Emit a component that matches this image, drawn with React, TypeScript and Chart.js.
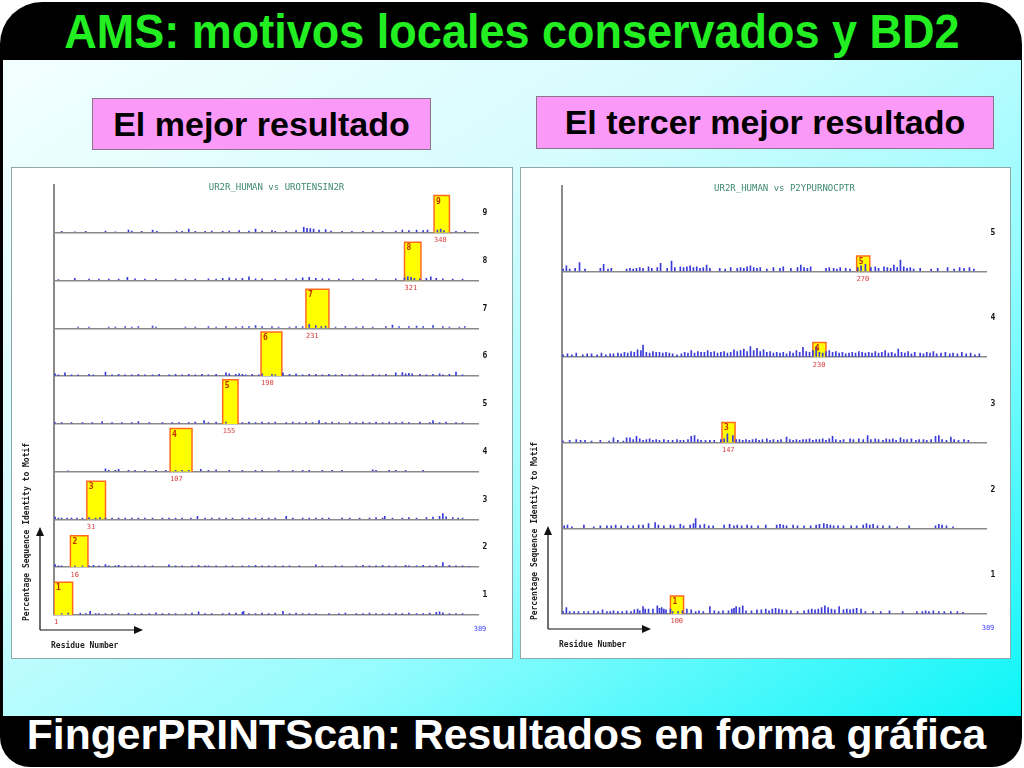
import React, { useEffect, useRef } from "react";
import { Chart, registerables } from "chart.js";

Chart.register(...registerables);

// ---------- data ----------
const RESIDUE_MIN = 1;
const RESIDUE_MAX = 389;
const IDENTITY_MAX = 105;

const LEFT_TITLE = "UR2R_HUMAN vs UROTENSIN2R";
const RIGHT_TITLE = "UR2R_HUMAN vs P2YPURNOCPTR";

const LEFT_ROWS = [1, 2, 3, 4, 5, 6, 7, 8, 9];
const RIGHT_ROWS = [1, 2, 3, 4, 5];

type Motif = { row: number; start: number; len: number; identity: number };

const LEFT_MOTIFS: Motif[] = [
  { row: 1, start: 1, len: 17, identity: 72 },
  { row: 2, start: 16, len: 16, identity: 69 },
  { row: 3, start: 31, len: 17, identity: 84 },
  { row: 4, start: 107, len: 20, identity: 95 },
  { row: 5, start: 155, len: 14, identity: 97 },
  { row: 6, start: 190, len: 19, identity: 97 },
  { row: 7, start: 231, len: 21, identity: 86 },
  { row: 8, start: 321, len: 15, identity: 84 },
  { row: 9, start: 348, len: 14, identity: 82 },
];

const RIGHT_MOTIFS: Motif[] = [
  { row: 1, start: 100, len: 12, identity: 22 },
  { row: 3, start: 147, len: 12, identity: 25 },
  { row: 4, start: 230, len: 12, identity: 18 },
  { row: 5, start: 270, len: 12, identity: 19 },
];

// [residue, % identity] of the small background hits
const L9_NOISE = [[8,3],[20,2],[30,3],[48,4],[57,2],[69,6],[72,4],[81,3],[91,6],[95,3],[113,4],[118,3],[124,8],[130,3],[139,3],[145,4],[155,3],[161,4],[170,5],[179,4],[185,8],[191,4],[200,5],[203,3],[213,4],[222,5],[229,12],[232,10],[235,9],[238,8],[243,6],[249,7],[254,4],[264,3],[273,3],[283,3],[292,4],[301,3],[313,4],[319,6],[325,5],[332,6],[338,5],[342,6],[351,6],[354,8],[357,5],[368,3],[376,4]];
const L8_NOISE = [[5,2],[20,5],[33,3],[42,3],[51,3],[60,3],[68,7],[75,4],[84,3],[94,3],[112,3],[121,3],[130,3],[142,4],[149,3],[155,5],[161,6],[167,4],[173,5],[179,8],[185,4],[191,4],[203,3],[213,4],[222,4],[228,6],[234,7],[240,5],[246,4],[252,4],[261,3],[274,3],[283,3],[295,3],[313,4],[321,6],[324,9],[327,7],[330,5],[335,4],[341,5],[345,8],[350,5],[356,4],[365,3],[374,3]];
const L7_NOISE = [[23,3],[33,3],[51,3],[57,3],[66,4],[72,3],[78,4],[91,5],[94,3],[121,3],[130,3],[142,4],[149,3],[158,4],[167,3],[173,4],[179,4],[185,6],[191,4],[200,4],[206,3],[216,3],[222,4],[228,4],[234,9],[240,6],[245,4],[249,5],[258,3],[267,4],[277,3],[283,4],[292,3],[304,4],[310,7],[316,4],[325,4],[332,5],[338,4],[347,6],[356,4],[362,3],[371,3],[376,4]];
const L6_NOISE = [[2,5],[5,3],[11,7],[17,3],[23,3],[33,4],[37,3],[48,9],[54,3],[60,4],[66,3],[72,3],[78,4],[84,3],[91,3],[97,4],[106,3],[112,4],[118,3],[124,4],[130,3],[136,4],[142,3],[149,4],[158,7],[161,5],[167,4],[170,5],[173,4],[176,3],[182,4],[188,3],[191,5],[200,4],[203,3],[210,7],[216,4],[222,5],[228,3],[234,4],[240,4],[246,3],[252,4],[258,3],[264,4],[271,3],[277,4],[283,3],[292,4],[298,3],[304,4],[313,7],[319,8],[322,5],[325,6],[328,5],[335,4],[341,3],[347,4],[353,5],[356,3],[362,4],[368,9],[374,3]];
const L5_NOISE = [[2,3],[8,3],[17,3],[27,3],[36,3],[45,5],[54,3],[63,3],[72,3],[78,5],[88,3],[100,3],[109,3],[115,3],[124,3],[130,4],[138,7],[142,3],[149,4],[158,4],[173,3],[179,4],[185,3],[191,4],[197,3],[203,4],[213,3],[219,4],[225,3],[231,4],[237,3],[243,7],[249,3],[255,4],[261,3],[271,4],[277,3],[283,4],[289,3],[295,4],[301,3],[307,4],[313,3],[319,4],[325,3],[335,4],[344,3],[347,7],[353,3],[359,4],[368,3],[374,3]];
const L4_NOISE = [[14,2],[48,6],[51,3],[57,3],[60,5],[69,3],[75,3],[84,3],[94,3],[103,3],[112,3],[118,3],[124,3],[135,5],[142,3],[149,4],[161,3],[173,3],[185,3],[191,3],[206,3],[219,3],[228,3],[234,3],[246,3],[255,3],[264,3],[292,4],[295,3],[307,3],[313,3],[322,3],[338,3]];
const L3_NOISE = [[2,5],[5,3],[8,3],[13,3],[17,3],[22,3],[27,3],[33,4],[39,3],[43,4],[48,3],[54,3],[60,3],[66,3],[72,3],[78,3],[84,3],[91,3],[100,3],[106,3],[112,3],[118,3],[126,3],[132,7],[139,3],[145,3],[152,3],[158,3],[164,3],[173,3],[179,3],[185,3],[191,3],[197,3],[203,3],[213,7],[219,3],[228,3],[234,3],[240,3],[246,3],[252,3],[264,3],[271,3],[280,3],[289,3],[295,4],[301,3],[303,7],[310,3],[319,3],[325,4],[332,3],[341,4],[347,5],[353,7],[356,13],[359,6],[365,4],[370,3],[374,3]];
const L2_NOISE = [[2,6],[5,3],[8,3],[20,3],[27,3],[33,3],[37,4],[42,3],[48,6],[51,3],[57,3],[60,4],[66,3],[72,3],[78,3],[84,3],[91,3],[106,5],[112,3],[118,3],[127,3],[133,4],[139,3],[142,3],[149,3],[158,3],[164,3],[173,3],[179,3],[185,4],[191,3],[197,3],[203,3],[210,3],[216,3],[225,3],[240,5],[246,3],[258,3],[264,3],[277,3],[283,4],[289,3],[295,3],[301,4],[307,3],[313,3],[322,4],[325,3],[332,3],[338,4],[344,3],[350,4],[356,10],[362,4],[368,3],[374,3],[380,2]];
const L1_NOISE = [[8,3],[14,4],[25,4],[30,3],[34,8],[39,3],[42,3],[48,3],[54,3],[60,3],[69,4],[75,3],[81,3],[88,3],[94,5],[100,3],[106,3],[112,3],[121,3],[127,4],[133,7],[139,3],[145,3],[155,3],[161,4],[167,4],[173,6],[174,8],[179,3],[185,3],[191,4],[197,3],[203,4],[210,8],[216,3],[222,4],[228,3],[234,3],[240,3],[252,3],[261,3],[267,4],[277,3],[283,3],[289,4],[295,3],[301,3],[307,3],[313,4],[319,3],[325,4],[332,3],[338,3],[344,4],[350,6],[353,7],[356,5],[362,3],[368,3],[374,3]];

const R5_NOISE = [[2,3],[5,7],[8,3],[13,4],[17,11],[22,3],[36,4],[39,9],[43,3],[46,4],[60,3],[63,4],[66,3],[69,4],[72,5],[75,4],[80,6],[83,4],[88,5],[91,10],[97,4],[101,13],[104,5],[109,6],[112,5],[115,6],[118,7],[121,5],[124,6],[127,4],[130,5],[133,8],[136,4],[145,4],[150,3],[155,5],[161,4],[164,5],[167,4],[170,6],[173,7],[176,5],[179,4],[182,5],[188,3],[194,5],[200,4],[203,6],[210,4],[216,5],[219,8],[222,5],[225,4],[228,6],[242,4],[245,5],[249,4],[252,3],[255,5],[260,4],[264,3],[271,5],[274,7],[278,9],[283,5],[287,6],[290,4],[295,6],[298,5],[301,4],[304,8],[307,5],[310,14],[313,6],[316,4],[319,5],[322,3],[328,4],[338,3],[344,4],[353,5],[359,3],[364,5],[368,4],[373,5],[377,3]];
const R4_NOISE = [[2,3],[6,4],[10,3],[14,5],[20,3],[24,4],[28,4],[33,3],[37,5],[41,3],[45,4],[48,4],[52,5],[55,4],[58,6],[61,5],[64,7],[67,6],[70,9],[73,8],[75,15],[78,6],[81,5],[84,7],[87,6],[90,6],[93,5],[96,6],[99,5],[102,4],[106,3],[110,4],[113,6],[116,5],[119,8],[122,5],[125,7],[128,6],[131,6],[134,8],[137,6],[140,7],[143,5],[146,6],[149,7],[152,5],[155,6],[158,9],[161,7],[164,8],[167,10],[170,7],[173,13],[176,8],[179,11],[182,7],[185,9],[188,6],[191,7],[194,5],[197,6],[200,5],[203,6],[206,4],[209,7],[212,5],[215,8],[218,6],[221,12],[224,7],[227,6],[230,8],[233,13],[236,6],[239,5],[242,7],[245,8],[248,6],[251,7],[254,5],[257,6],[260,4],[263,5],[266,6],[269,5],[272,7],[275,6],[278,5],[281,6],[284,5],[287,7],[290,5],[293,6],[296,8],[299,5],[302,6],[305,4],[308,10],[311,6],[314,5],[317,7],[320,4],[323,6],[328,5],[331,4],[334,6],[337,5],[340,7],[343,4],[347,5],[351,6],[355,4],[358,5],[362,4],[366,6],[370,4],[374,5],[378,3],[382,4]];
const R3_NOISE = [[2,2],[8,3],[14,4],[18,3],[22,3],[28,2],[36,3],[44,2],[48,6],[52,3],[57,2],[60,6],[63,6],[66,4],[69,8],[72,5],[75,3],[78,4],[81,5],[84,3],[87,4],[90,3],[94,4],[98,3],[102,3],[106,4],[109,3],[112,3],[116,4],[119,8],[122,9],[125,4],[128,3],[132,3],[136,3],[140,3],[146,4],[149,5],[152,11],[157,9],[160,4],[163,4],[166,3],[169,4],[172,3],[175,4],[178,5],[181,3],[184,4],[188,5],[191,3],[194,4],[198,3],[201,4],[206,7],[209,4],[212,3],[215,4],[218,3],[221,4],[224,4],[227,5],[230,3],[233,4],[236,4],[239,5],[242,3],[245,5],[248,8],[251,4],[255,3],[258,4],[264,5],[267,4],[272,5],[276,4],[280,9],[283,4],[287,5],[290,4],[294,3],[297,5],[300,4],[303,5],[306,3],[310,6],[313,4],[316,4],[320,5],[324,3],[327,4],[331,4],[334,3],[338,4],[342,8],[345,9],[348,4],[352,3],[356,7],[359,4],[363,3],[368,4],[372,3]];
const R2_NOISE = [[3,3],[6,4],[10,2],[21,4],[30,2],[36,3],[42,3],[46,3],[50,4],[55,3],[61,3],[66,3],[71,4],[75,4],[80,6],[86,7],[89,4],[94,3],[100,4],[103,3],[109,5],[112,3],[118,4],[121,6],[123,12],[127,4],[131,5],[135,3],[139,3],[149,4],[154,5],[158,3],[161,4],[165,3],[170,4],[174,3],[180,3],[187,4],[197,4],[200,5],[203,4],[206,3],[212,4],[216,3],[222,3],[228,3],[233,4],[236,5],[240,6],[243,5],[246,4],[249,3],[253,3],[258,3],[265,3],[270,3],[276,4],[279,6],[282,4],[285,5],[289,3],[294,3],[300,3],[307,2],[318,3],[342,3],[345,5],[348,4],[352,3],[358,2]];
const R1_NOISE = [[2,3],[5,8],[8,3],[12,3],[16,3],[21,3],[25,3],[30,4],[34,3],[38,5],[42,3],[45,3],[48,4],[52,3],[56,3],[60,4],[64,3],[67,5],[70,6],[72,4],[75,9],[77,6],[80,6],[84,6],[88,10],[90,7],[92,8],[94,6],[96,5],[100,6],[102,3],[107,3],[111,4],[115,6],[119,5],[123,3],[126,4],[130,3],[136,9],[140,4],[144,3],[148,4],[153,4],[156,6],[158,7],[160,9],[163,8],[166,10],[169,4],[174,4],[179,5],[183,5],[187,6],[190,4],[193,6],[196,7],[199,6],[202,5],[206,5],[210,4],[216,3],[222,4],[226,5],[229,6],[232,5],[235,6],[238,8],[241,10],[244,8],[247,6],[250,5],[254,9],[258,5],[261,6],[264,5],[267,6],[270,7],[274,6],[278,3],[285,3],[292,3],[300,4],[312,3],[325,3],[330,3],[333,4],[336,3],[340,4],[345,3],[350,3],[356,3],[362,3],[367,2]];

const LEFT_NOISE: Record<number, number[][]> = { 1: L1_NOISE, 2: L2_NOISE, 3: L3_NOISE, 4: L4_NOISE, 5: L5_NOISE, 6: L6_NOISE, 7: L7_NOISE, 8: L8_NOISE, 9: L9_NOISE };
const RIGHT_NOISE: Record<number, number[][]> = { 1: R1_NOISE, 2: R2_NOISE, 3: R3_NOISE, 4: R4_NOISE, 5: R5_NOISE };

// ---------- chart ----------
type PanelSpec = {
  title: string;
  rows: number[];
  motifs: Motif[];
  noise: Record<number, number[][]>;
  padding: { left: number; right: number; top: number; bottom: number };
  width: number;
  height: number;
};

const MONO = '"DejaVu Sans Mono", "Liberation Mono", monospace';

function makeTextPlugin(p: PanelSpec) {
  return {
    id: "panelText",
    afterDatasetsDraw(chart: any) {
      const { ctx, chartArea: ca, scales } = chart;
      const xs = scales.x;
      ctx.save();
      // title
      ctx.font = `9px ${MONO}`;
      ctx.fillStyle = "#3d8a6c";
      ctx.textAlign = "center";
      ctx.textBaseline = "middle";
      ctx.fillText(p.title, (ca.left + ca.right) / 2 + 10, ca.top + 2.5);
      // row numbers
      ctx.font = `bold 8px ${MONO}`;
      ctx.fillStyle = "#111";
      p.rows.forEach((r) => {
        const s = scales["y" + r];
        ctx.fillText(String(r), ca.right + 6, (s.top + s.bottom) / 2 + 4);
      });
      // motif labels
      p.motifs.forEach((m) => {
        const s = scales["y" + m.row];
        const x0 = xs.getPixelForValue(m.start);
        const yTop = s.getPixelForValue(m.identity);
        const yBase = s.getPixelForValue(0);
        ctx.textAlign = "left";
        ctx.textBaseline = "top";
        ctx.font = `bold 8px ${MONO}`;
        ctx.fillStyle = "#c42a00";
        ctx.fillText(String(m.row), x0 + 2, yTop + 2);
        ctx.font = `7px ${MONO}`;
        ctx.fillStyle = "#d83a3a";
        ctx.fillText(String(m.start), x0, yBase + 4);
      });
      // last residue
      ctx.font = `7px ${MONO}`;
      ctx.fillStyle = "#3a3aff";
      ctx.textAlign = "center";
      ctx.textBaseline = "middle";
      ctx.fillText(String(RESIDUE_MAX), xs.getPixelForValue(RESIDUE_MAX) + 1, ca.bottom + 14);
      // axis arrows
      const ax = ca.left - 14;
      const ay = ca.bottom + 15;
      const topY = ca.bottom - 88;
      const rightX = ca.left + 89;
      ctx.strokeStyle = "#111";
      ctx.fillStyle = "#111";
      ctx.lineWidth = 1.2;
      ctx.beginPath();
      ctx.moveTo(ax, ay);
      ctx.lineTo(ax, topY + 7);
      ctx.moveTo(ax, ay);
      ctx.lineTo(rightX - 8, ay);
      ctx.stroke();
      ctx.beginPath();
      ctx.moveTo(ax, topY);
      ctx.lineTo(ax - 4, topY + 9);
      ctx.lineTo(ax + 4, topY + 9);
      ctx.closePath();
      ctx.fill();
      ctx.beginPath();
      ctx.moveTo(rightX, ay);
      ctx.lineTo(rightX - 9, ay - 4);
      ctx.lineTo(rightX - 9, ay + 4);
      ctx.closePath();
      ctx.fill();
      // axis titles
      ctx.font = `bold 8px ${MONO}`;
      ctx.fillStyle = "#222";
      ctx.textAlign = "left";
      ctx.textBaseline = "middle";
      ctx.fillText("Residue Number", ca.left - 3, ca.bottom + 31);
      ctx.save();
      ctx.translate(ca.left - 27, ca.bottom - 83);
      ctx.rotate(-Math.PI / 2);
      ctx.textAlign = "center";
      ctx.fillText("Percentage Sequence Identity to Motif", 0, 0);
      ctx.restore();
      ctx.restore();
    },
  };
}

function buildConfig(p: PanelSpec): any {
  const scales: any = {
    x: {
      type: "linear",
      min: RESIDUE_MIN,
      max: RESIDUE_MAX,
      display: false,
      offset: false,
      grid: { offset: false },
    },
  };
  p.rows.forEach((r) => {
    scales["y" + r] = {
      type: "linear",
      position: "left",
      stack: "rows",
      stackWeight: 1,
      min: 0,
      max: IDENTITY_MAX,
      offset: false,
      ticks: { display: false, stepSize: 25 },
      grid: {
        drawTicks: false,
        drawOnChartArea: true,
        lineWidth: 1.6,
        color: (c: any) => (c.tick && c.tick.value === 0 ? "#8a8a8a" : "rgba(0,0,0,0)"),
      },
      border: { display: true, color: "#8a8a8a", width: 2 },
      afterFit: (s: any) => {
        s.width = 0;
      },
    };
  });

  const datasets: any[] = [];
  p.rows.forEach((r) => {
    datasets.push({
      type: "bar",
      label: "hits " + r,
      data: (p.noise[r] || []).map(([x, y]) => ({ x, y })),
      xAxisID: "x",
      yAxisID: "y" + r,
      backgroundColor: "#3b3bd8",
      borderWidth: 0,
      barThickness: 1,
      grouped: false,
      order: 0,
    });
  });
  p.motifs.forEach((m) => {
    datasets.push({
      type: "line",
      label: "motif " + m.row,
      data: [
        { x: m.start, y: 0 },
        { x: m.start, y: m.identity },
        { x: m.start + m.len, y: m.identity },
        { x: m.start + m.len, y: 0 },
      ],
      xAxisID: "x",
      yAxisID: "y" + m.row,
      borderColor: "#ff6a1e",
      borderWidth: 1.5,
      backgroundColor: "#ffff00",
      fill: "origin",
      pointRadius: 0,
      tension: 0,
      order: 1,
    });
  });

  return {
    type: "bar",
    data: { datasets },
    options: {
      animation: false,
      responsive: false,
      maintainAspectRatio: false,
      events: [],
      layout: { padding: p.padding },
      plugins: { legend: { display: false }, tooltip: { enabled: false }, title: { display: false } },
      scales,
    },
    plugins: [makeTextPlugin(p)],
  };
}

function Panel({ spec }: { spec: PanelSpec }) {
  const ref = useRef<HTMLCanvasElement | null>(null);
  useEffect(() => {
    if (!ref.current) return;
    const chart = new Chart(ref.current, buildConfig(spec));
    return () => chart.destroy();
  }, [spec]);
  return (
    <canvas
      ref={ref}
      width={spec.width}
      height={spec.height}
      style={{ display: "block", width: spec.width, height: spec.height }}
    />
  );
}

const LEFT_SPEC: PanelSpec = {
  title: LEFT_TITLE,
  rows: LEFT_ROWS,
  motifs: LEFT_MOTIFS,
  noise: LEFT_NOISE,
  padding: { left: 42, right: 33, top: 17, bottom: 43 },
  width: 500,
  height: 490,
};

const RIGHT_SPEC: PanelSpec = {
  title: RIGHT_TITLE,
  rows: RIGHT_ROWS,
  motifs: RIGHT_MOTIFS,
  noise: RIGHT_NOISE,
  padding: { left: 41, right: 23, top: 18, bottom: 44 },
  width: 489,
  height: 490,
};

const SANS = '"Liberation Sans", Arial, Helvetica, sans-serif';

export default function App() {
  return (
    <div
      style={{
        position: "fixed",
        left: 0,
        top: 0,
        width: 1024,
        height: 768,
        background: "#ffffff",
        overflow: "hidden",
        fontFamily: SANS,
      }}
    >
      <div
        style={{
          position: "absolute",
          left: 0,
          top: 2,
          width: 1022,
          height: 765,
          background: "#000",
          borderRadius: "42px 42px 30px 30px",
        }}
      />
      <div
        style={{
          position: "absolute",
          left: 3,
          top: 60,
          width: 1018,
          height: 656,
          background:
            "linear-gradient(to bottom right, #f3ffff 0%, #d6fcfe 35%, #95fcfe 65%, #0cf5f8 100%)",
        }}
      />
      <div
        style={{
          position: "absolute",
          left: 0,
          top: 11,
          width: 1024,
          textAlign: "center",
          fontSize: 45,
          lineHeight: "45px",
          fontWeight: "bold",
          color: "#22ee22",
          whiteSpace: "nowrap",
          transform: "scaleY(1.08)",
          transformOrigin: "50% 100%",
        }}
      >
        AMS: motivos locales conservados y BD2
      </div>
      <div
        style={{
          position: "absolute",
          left: 0,
          top: 714,
          width: 1013,
          textAlign: "center",
          fontSize: 42,
          lineHeight: "42px",
          fontWeight: "bold",
          color: "#ffffff",
          whiteSpace: "nowrap",
          transform: "scaleX(1.015)",
        }}
      >
        FingerPRINTScan: Resultados en forma gráfica
      </div>
      <div
        style={{
          position: "absolute",
          left: 92,
          top: 98,
          width: 339,
          height: 52,
          boxSizing: "border-box",
          background: "#fb99f9",
          border: "1px solid #8a748a",
          display: "flex",
          alignItems: "center",
          justifyContent: "center",
          fontSize: 34,
          fontWeight: "bold",
          color: "#000",
          whiteSpace: "nowrap",
        }}
      >
        El mejor resultado
      </div>
      <div
        style={{
          position: "absolute",
          left: 536,
          top: 96,
          width: 458,
          height: 53,
          boxSizing: "border-box",
          background: "#fb99f9",
          border: "1px solid #8a748a",
          display: "flex",
          alignItems: "center",
          justifyContent: "center",
          fontSize: 34,
          fontWeight: "bold",
          color: "#000",
          whiteSpace: "nowrap",
        }}
      >
        El tercer mejor resultado
      </div>
      <div
        style={{
          position: "absolute",
          left: 11,
          top: 167,
          width: 502,
          height: 492,
          boxSizing: "border-box",
          border: "1px solid #8fa9a9",
          background: "#fff",
        }}
      >
        <Panel spec={LEFT_SPEC} />
      </div>
      <div
        style={{
          position: "absolute",
          left: 520,
          top: 167,
          width: 491,
          height: 492,
          boxSizing: "border-box",
          border: "1px solid #8fa9a9",
          background: "#fff",
        }}
      >
        <Panel spec={RIGHT_SPEC} />
      </div>
    </div>
  );
}
